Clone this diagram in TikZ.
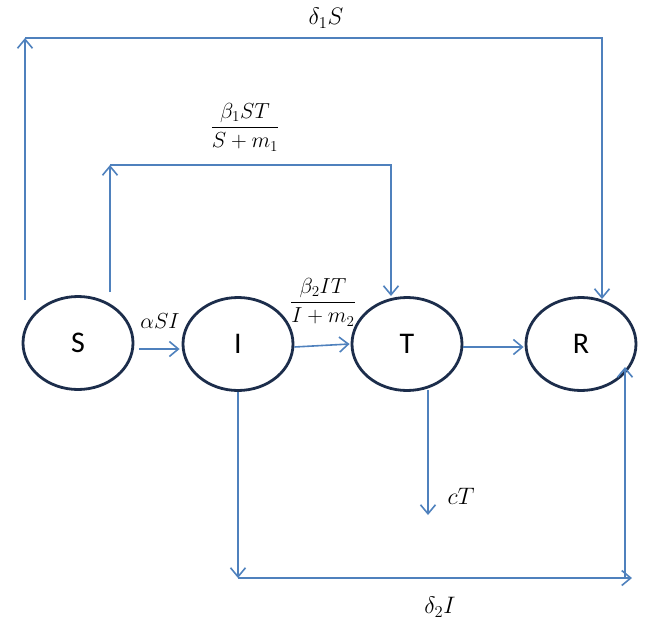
\documentclass[tikz,border=0pt]{standalone}
\usepackage{graphicx}
\usepackage{fontspec}
\setmainfont{Carlito}
\usetikzlibrary{arrows.meta,shapes.geometric,calc}
\definecolor{lineblue}{RGB}{79,129,189}
\definecolor{navyline}{RGB}{28,45,75}
\newcommand{\biglbl}[1]{\scalebox{1.15}{#1}}
\begin{document}
\begin{tikzpicture}[x=1pt,y=-1pt,
  state/.style={ellipse, draw=navyline, line width=2.8pt, minimum width=110pt, minimum height=93pt, inner sep=0pt, font=\fontsize{30}{34}\selectfont},
  flow/.style={draw=lineblue, line width=1.6pt, -{Straight Barb[length=9pt,width=15pt,line width=1.6pt]}},
  lbl/.style={font=\fontsize{21}{24}\selectfont, inner sep=1pt}]
\useasboundingbox (0,0) rectangle (649,624);
% states
\node[state] (S) at (78,343) {S};
\node[state] (I) at (238,344) {I};
\node[state] (T) at (407,344) {T};
\node[state] (R) at (581,344) {R};
% helper coordinates
\coordinate (d1a) at (25,300);
\coordinate (d1b) at (25,38);
\coordinate (d1c) at (602,299);
\coordinate (b1a) at (110,292);
\coordinate (b1b) at (110,165);
\coordinate (b1c) at (391,296);
\coordinate (d2b) at (238,578);
\coordinate (d2c) at (632,578);
\coordinate (d2d) at (625,578);
\coordinate (d2e) at (625,367);
\coordinate (cTa) at (428,515);
% delta1 S
\draw[flow] (d1a) -- (d1b);
\draw[flow] (d1b) -| (d1c);
\node[lbl] (l1) at (326,18) {\biglbl{$\delta_1 S$}};
% beta1 ST
\draw[flow] (b1a) -- (b1b);
\draw[flow] (b1b) -| (b1c);
\node[lbl] (l2) at (245,127) {\scalebox{1.05}{$\displaystyle\frac{\beta_1 ST}{S+m_1}$}};
% alpha SI
\draw[flow] ($(S.east)+(5,6)$) -- ($(I.west)+(-2,5)$);
\node[lbl] (l3) at (160,321) {\scalebox{1.05}{$\alpha SI$}};
% beta2 IT
\draw[flow] ($(I.east)+(0,3)$) -- ($(T.west)+(-1,0)$);
\node[lbl] (l4) at (323,302) {\scalebox{1.05}{$\displaystyle\frac{\beta_2 IT}{I+m_2}$}};
% T -> R
\draw[flow] ($(T.east)+(0,3)$) -- ($(R.west)+(-1,3)$);
% I -> R (delta2 I)
\draw[flow] (I.south) -- (d2b);
\draw[flow] (d2b) -- (d2c);
\draw[flow] (d2d) -- (d2e);
\node[lbl] (l5) at (440,607) {\biglbl{$\delta_2 I$}};
% cT
\draw[flow] ($(T.south)+(21,-2)$) -- (cTa);
\node[lbl] (l6) at (461,496) {\biglbl{$cT$}};
\end{tikzpicture}
\end{document}
